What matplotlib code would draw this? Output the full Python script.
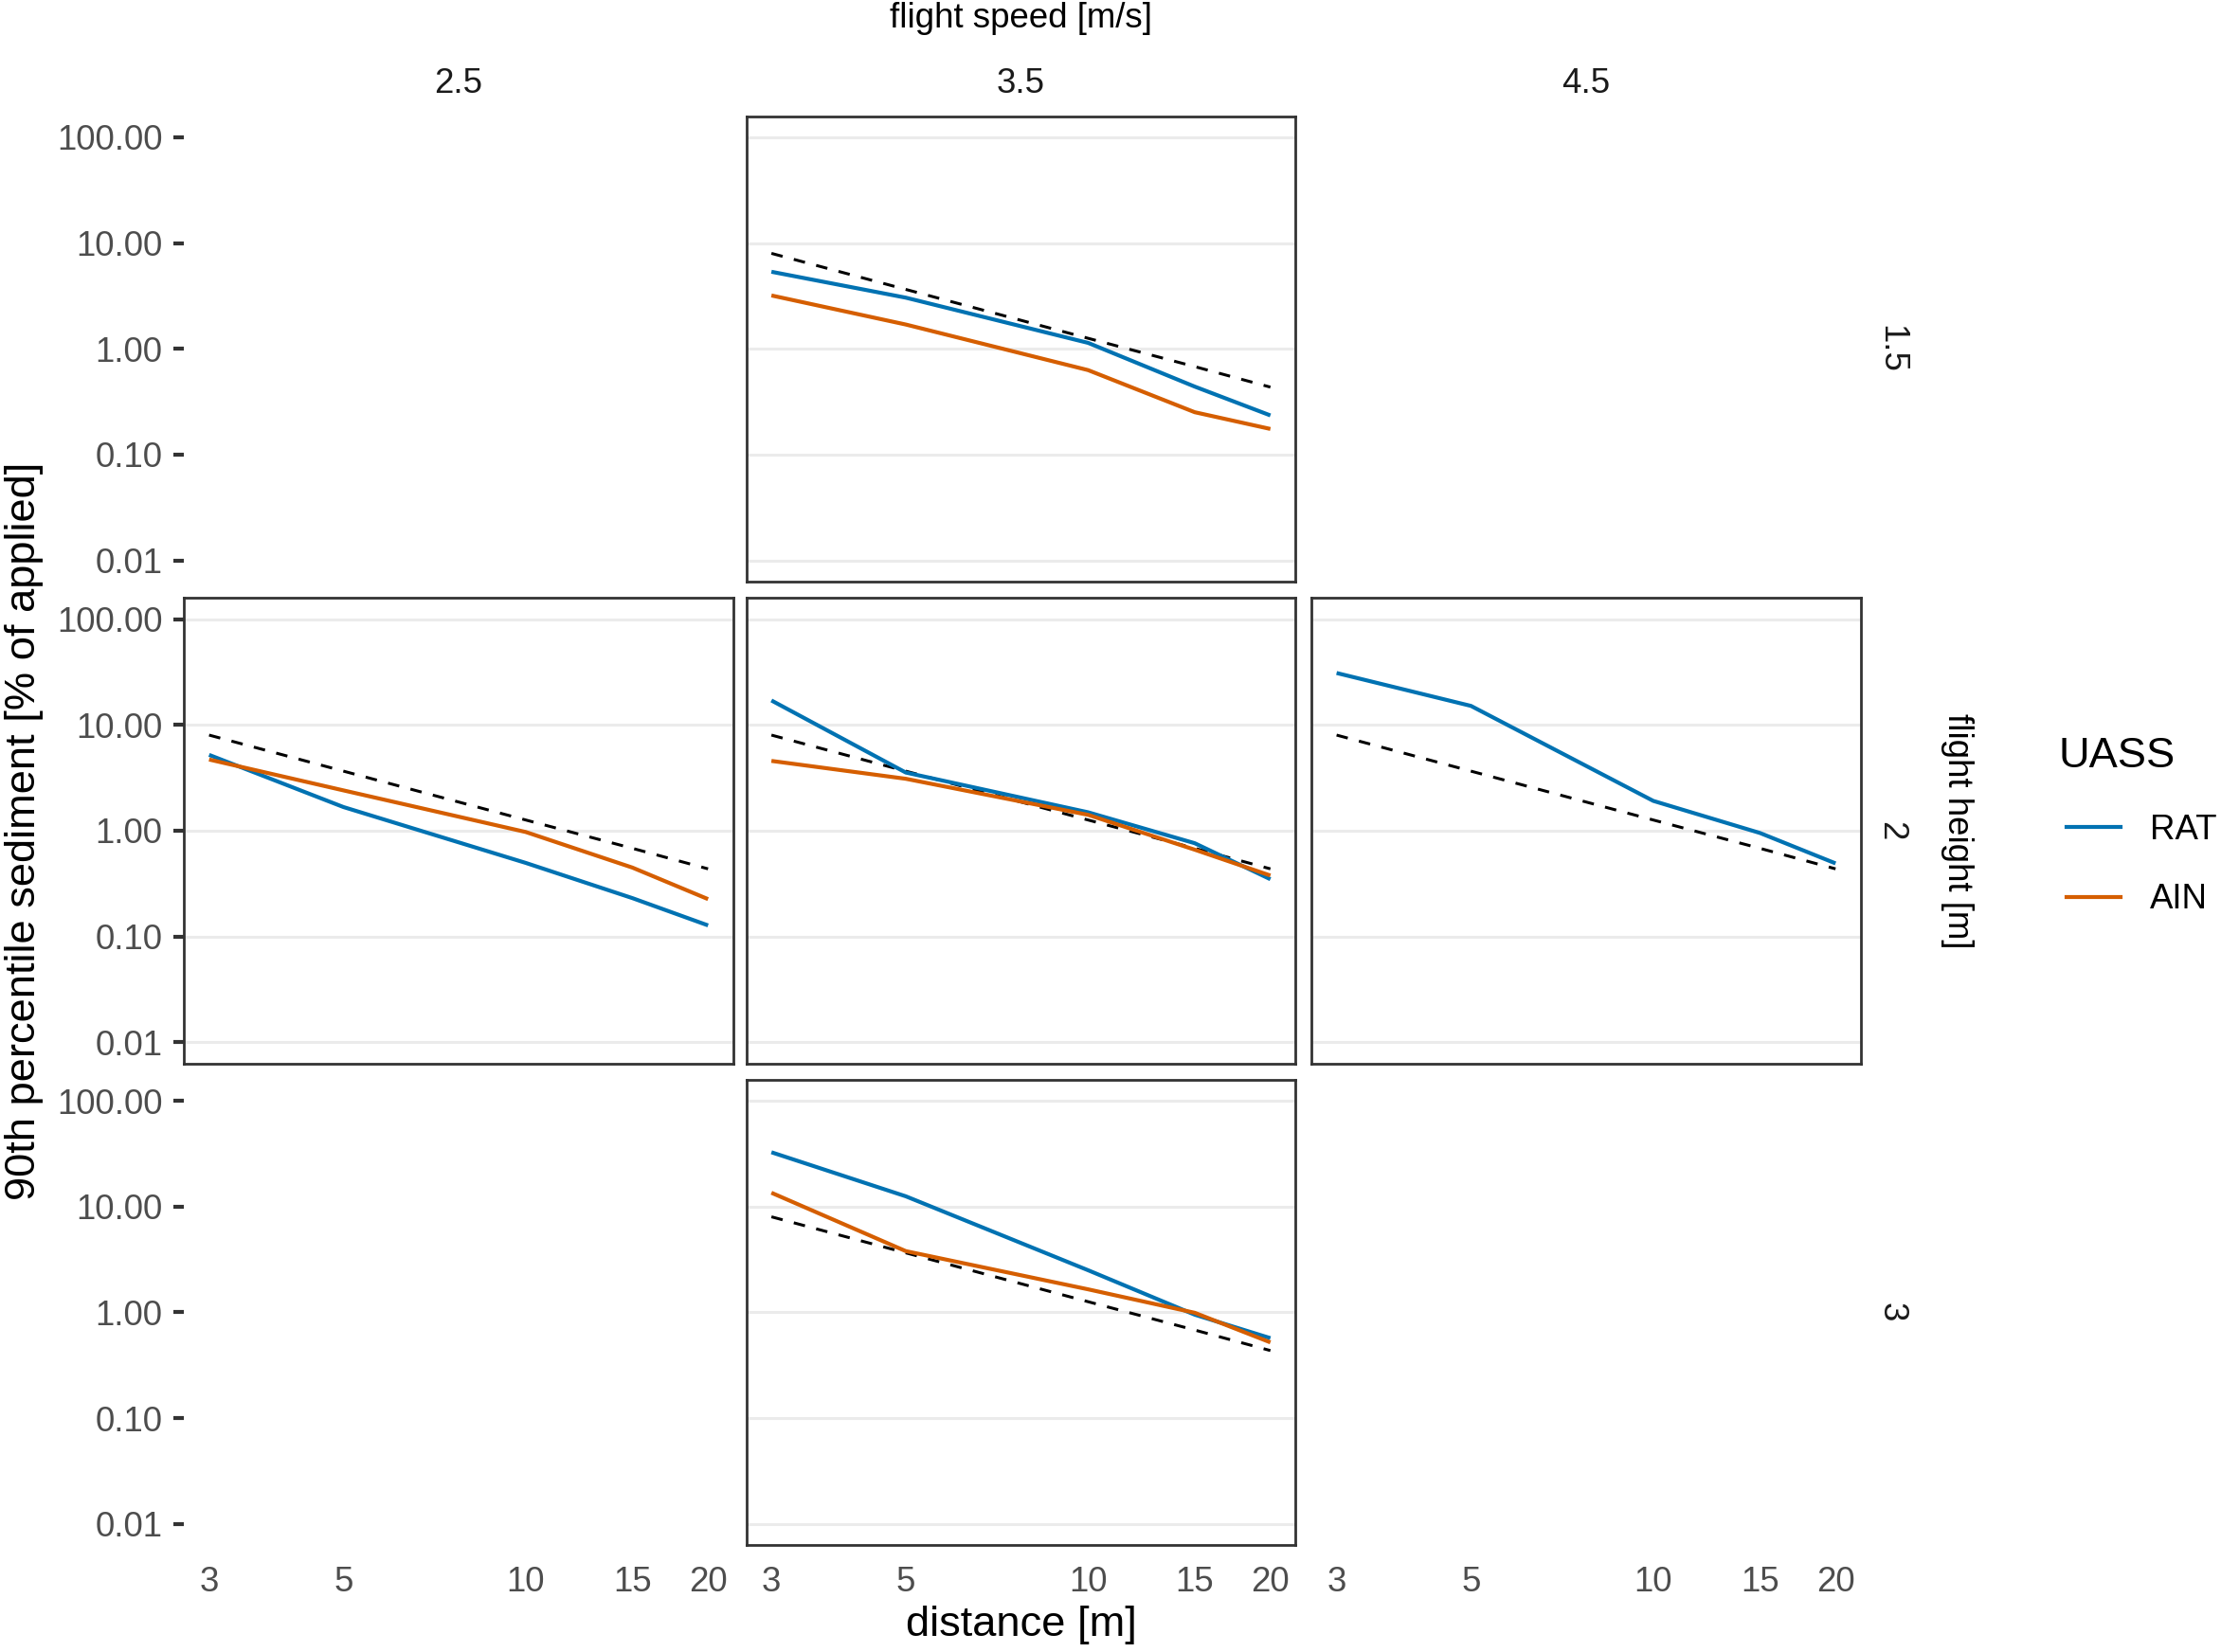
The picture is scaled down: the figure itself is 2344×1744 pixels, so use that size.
import matplotlib.pyplot as plt
import numpy as np

plt.rcParams['font.family'] = ['Liberation Sans', 'DejaVu Sans']

# data (values in % of applied)
distance = [3, 5, 10, 15, 20]
reference = [8.0, 3.65, 1.26, 0.68, 0.435]

speeds = ['2.5', '3.5', '4.5']
heights = ['1.5', '2', '3']

# speed 3.5, height 1.5
rat_v35_h15 = [5.36, 3.05, 1.14, 0.44, 0.235]
ain_v35_h15 = [3.2, 1.70, 0.63, 0.252, 0.175]
# speed 2.5, height 2
rat_v25_h2 = [5.2, 1.67, 0.495, 0.23, 0.127]
ain_v25_h2 = [4.7, 2.40, 0.97, 0.447, 0.225]
# speed 3.5, height 2
rat_v35_h2 = [17.0, 3.54, 1.49, 0.76, 0.347]
ain_v35_h2 = [4.56, 3.09, 1.41, 0.66, 0.376]
# speed 4.5, height 2 (RAT only)
rat_v45_h2 = [30.9, 15.1, 1.91, 0.95, 0.49]
# speed 3.5, height 3
rat_v35_h3 = [32.6, 12.5, 2.5, 0.95, 0.57]
ain_v35_h3 = [13.5, 3.79, 1.65, 0.99, 0.52]

uass = ['RAT', 'AIN']
colors = {'RAT': '#0072B2', 'AIN': '#D55E00'}

# (row, col): series per UASS
panels = {
    (0, 1): {'RAT': rat_v35_h15, 'AIN': ain_v35_h15},
    (1, 0): {'RAT': rat_v25_h2, 'AIN': ain_v25_h2},
    (1, 1): {'RAT': rat_v35_h2, 'AIN': ain_v35_h2},
    (1, 2): {'RAT': rat_v45_h2},
    (2, 1): {'RAT': rat_v35_h3, 'AIN': ain_v35_h3},
}

y_ticks = [0.01, 0.1, 1, 10, 100]
y_labels = ['0.01', '0.10', '1.00', '10.00', '100.00']

fig = plt.figure(figsize=(11.72, 8.72), dpi=200)

W, H = 1568.0, 1166.0
col_left = [130, 527, 926]
row_top = [82, 422, 762]
pw, ph = 387.5, 328.5

# ggplot-like 5% expansion on the log scales
lx0, lx1 = np.log10(min(distance)), np.log10(max(distance))
xpad = 0.05 * (lx1 - lx0)
ly0, ly1 = -2, 2
ypad = 0.05 * (ly1 - ly0)

tick_col = '#4D4D4D'
strip_col = '#1A1A1A'

for r in range(3):
    for c in range(3):
        has_panel = (r, c) in panels
        need_y = c == 0
        need_x = r == 2
        if not (has_panel or need_y or need_x):
            continue
        ax = fig.add_axes([col_left[c] / W, 1 - (row_top[r] + ph) / H, pw / W, ph / H])
        ax.set_xscale('log')
        ax.set_yscale('log')
        ax.set_xlim(10 ** (lx0 - xpad), 10 ** (lx1 + xpad))
        ax.set_ylim(10 ** (ly0 - ypad), 10 ** (ly1 + ypad))
        ax.set_xticks(distance)
        ax.set_xticklabels([str(d) for d in distance])
        ax.set_yticks(y_ticks)
        ax.set_yticklabels(y_labels)
        ax.minorticks_off()
        ax.tick_params(axis='y', length=3.8, width=1.5, color='#333333',
                       labelcolor=tick_col, labelsize=13.2, pad=4.5)
        ax.tick_params(axis='x', length=0, labelcolor=tick_col,
                       labelsize=13.2, pad=8.0)
        if not need_y:
            ax.tick_params(axis='y', left=False, labelleft=False)
        if not need_x:
            ax.tick_params(axis='x', labelbottom=False)

        if has_panel:
            ax.yaxis.grid(True, color='#EBEBEB', lw=1.1)
            ax.set_axisbelow(True)
            for s in ax.spines.values():
                s.set_color('#333333')
                s.set_linewidth(1.0)
            ax.plot(distance, reference, color='black', lw=1.1,
                    dashes=(4, 4), zorder=2)
            for name in uass:
                if name in panels[(r, c)]:
                    ax.plot(distance, panels[(r, c)][name], color=colors[name],
                            lw=1.5, zorder=3, solid_capstyle='butt')
        else:
            for s in ax.spines.values():
                s.set_visible(False)
            ax.patch.set_visible(False)

# strip labels
for c, sp in enumerate(speeds):
    fig.text((col_left[c] + pw / 2) / W, 1 - 59 / H, sp, ha='center', va='center',
             fontsize=13.2, color=strip_col)
for r, hg in enumerate(heights):
    fig.text(1335 / W, 1 - (row_top[r] + ph / 2) / H, hg, ha='center', va='center',
             rotation=-90, fontsize=13.2, color=strip_col)

fig.text((col_left[1] + pw / 2) / W, 1 - 13 / H, 'flight speed [m/s]',
         ha='center', va='center', fontsize=13.2)
fig.text(1382 / W, 1 - (row_top[1] + ph / 2) / H, 'flight height [m]',
         ha='center', va='center', rotation=-90, fontsize=13.2)

fig.text((col_left[1] + pw / 2) / W, 1 - 1147 / H, 'distance [m]',
         ha='center', va='center', fontsize=16.3)
fig.text(17 / W, 1 - (row_top[1] + ph / 2) / H, '90th percentile sediment [% of applied]',
         ha='center', va='center', rotation=90, fontsize=16.3)

# legend
fig.text(1453 / W, 1 - 534 / H, 'UASS', ha='left', va='center', fontsize=16.3)
handles = [plt.Line2D([], [], color=colors[n], lw=1.5) for n in uass]
leg = fig.legend(handles, uass, loc='center left',
                 bbox_to_anchor=(1459 / W, 1 - 610.5 / H), frameon=False,
                 fontsize=13.2, handlelength=1.55,
                 handletextpad=0.85, labelspacing=1.05, borderpad=0,
                 borderaxespad=0)

fig.savefig('out.png', dpi=200)
